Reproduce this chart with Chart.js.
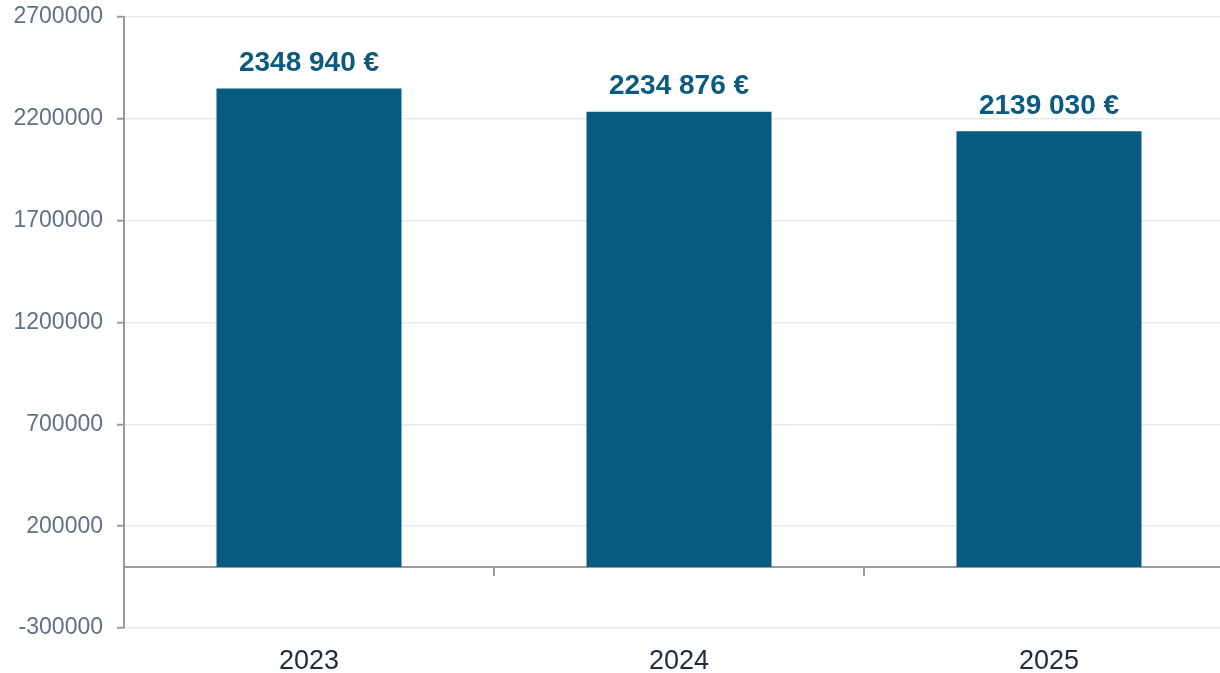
<!DOCTYPE html>
<html>
<head>
<meta charset="utf-8">
<script src="https://cdn.jsdelivr.net/npm/chart.js@4.4.1/dist/chart.umd.min.js"></script>
<style>
  html, body { margin: 0; padding: 0; background: #ffffff; overflow: hidden; }
  #wrap { position: relative; width: 1240px; height: 673px; }
</style>
</head>
<body>
<div id="wrap"><canvas id="c"></canvas></div>
<script>
// ---- data ----
const categories = ['2023', '2024', '2025'];
const amounts = [2348940, 2234876, 2139030];
const yTickValues = [-300000, 200000, 700000, 1200000, 1700000, 2200000, 2700000];
const yMin = -300000;
const yMax = 2700000;

const barColor = '#075a80';
const labelColor = '#0b5a80';
const axisGray = '#9b9b9b';
const gridColor = '#e6e9f1';
const FONT = "'Liberation Sans', Arial, sans-serif";

function formatEuro(v) {
  const thousands = Math.floor(v / 1000);
  const rest = String(v % 1000).padStart(3, '0');
  return thousands + ' ' + rest + ' €';
}

const valueLabels = {
  id: 'valueLabels',
  afterDatasetsDraw(chart) {
    const ctx = chart.ctx;
    const meta = chart.getDatasetMeta(0);
    ctx.save();
    ctx.font = "bold 28px " + FONT;
    ctx.fillStyle = labelColor;
    ctx.textAlign = 'center';
    ctx.textBaseline = 'middle';
    meta.data.forEach((bar, i) => {
      ctx.fillText(formatEuro(amounts[i]), bar.x, bar.y - 25);
    });
    ctx.restore();
  }
};

new Chart(document.getElementById('c'), {
  type: 'bar',
  data: {
    labels: categories,
    datasets: [{
      data: amounts,
      backgroundColor: barColor,
      borderWidth: 0,
      barPercentage: 0.5,
      categoryPercentage: 1.0
    }]
  },
  options: {
    responsive: true,
    maintainAspectRatio: false,
    animation: false,
    devicePixelRatio: 1,
    layout: { padding: { top: 17, right: 6, left: 0, bottom: 0 } },
    plugins: {
      legend: { display: false },
      tooltip: { enabled: false }
    },
    scales: {
      x: {
        type: 'category',
        position: 'bottom',
        offset: true,
        grid: { display: false, drawTicks: false, offset: true },
        border: { display: false },
        ticks: {
          color: '#1f2a3a',
          font: { family: FONT, size: 27 },
          padding: 17,
          maxRotation: 0
        },
        afterFit(scale) {
          scale.height = 45;
          scale.paddingLeft = 0;
          scale.paddingRight = 0;
        }
      },
      x2: {
        type: 'category',
        labels: categories,
        position: { y: 0 },
        offset: true,
        z: 1,
        grid: {
          display: true,
          offset: true,
          drawOnChartArea: false,
          drawTicks: true,
          tickLength: 8,
          color: axisGray,
          lineWidth: 2
        },
        border: { display: true, color: axisGray, width: 2 },
        ticks: { display: false },
        afterFit(scale) {
          scale.paddingTop = 0; scale.paddingBottom = 0;
          scale.paddingLeft = 0; scale.paddingRight = 0;
        }
      },
      y: {
        type: 'linear',
        min: yMin,
        max: yMax,
        afterBuildTicks(scale) {
          scale.ticks = yTickValues.map(v => ({ value: v }));
        },
        afterFit(scale) {
          scale.width = 124;
          scale.paddingTop = 0;
          scale.paddingBottom = 0;
        },
        grid: {
          color: gridColor,
          lineWidth: 1.5,
          drawTicks: true,
          tickLength: 7,
          tickColor: axisGray,
          tickWidth: 2
        },
        border: { display: true, color: axisGray, width: 2 },
        ticks: {
          color: '#607089',
          font: { family: FONT, size: 23 },
          padding: 14,
          callback: v => String(v)
        }
      }
    }
  },
  plugins: [valueLabels]
});
</script>
</body>
</html>
